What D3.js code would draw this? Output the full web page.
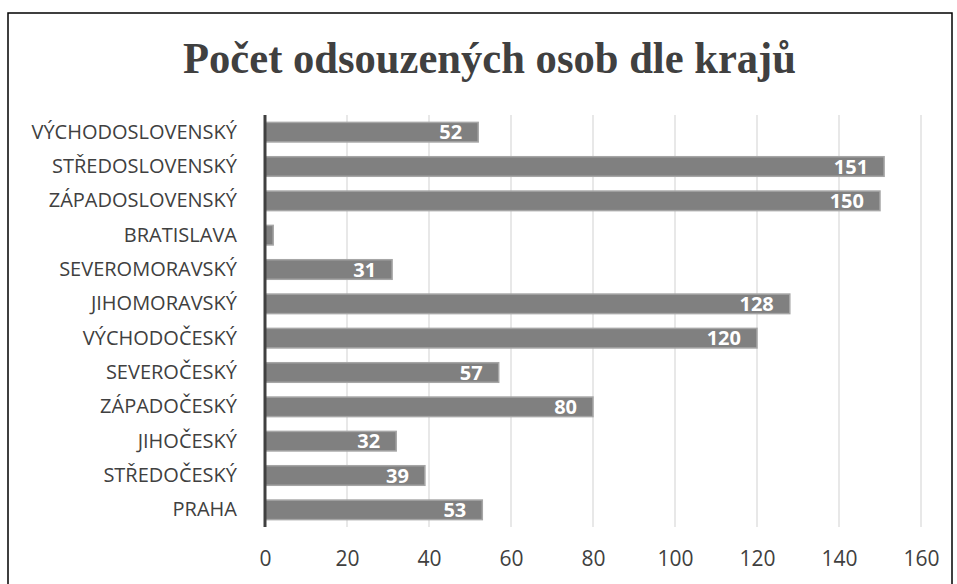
<!DOCTYPE html>
<html>
<head>
<meta charset="utf-8">
<script src="https://cdn.jsdelivr.net/npm/d3@7"></script>
<style>
  body { margin: 0; background: #fff; }
</style>
</head>
<body>
<div id="chart"></div>
<script>
// data, top to bottom as shown
var kraje = ['VÝCHODOSLOVENSKÝ', 'STŘEDOSLOVENSKÝ', 'ZÁPADOSLOVENSKÝ', 'BRATISLAVA',
             'SEVEROMORAVSKÝ', 'JIHOMORAVSKÝ', 'VÝCHODOČESKÝ', 'SEVEROČESKÝ',
             'ZÁPADOČESKÝ', 'JIHOČESKÝ', 'STŘEDOČESKÝ', 'PRAHA'];
var pocty = [52, 151, 150, 2, 31, 128, 120, 57, 80, 32, 39, 53];
var xTicks = [0, 20, 40, 60, 80, 100, 120, 140, 160];
var title = 'Počet odsouzených osob dle krajů';

var width = 957,
    height = 584,
    margin = {left: 265, right: 36, top: 115, bottom: 57};

var data = kraje.map(function(k, i) { return {kraj: k, value: pocty[i]}; });

var svg = d3.select('#chart').append('svg')
    .attr('width', width)
    .attr('height', height);

// outer frame
svg.append('rect')
    .attr('x', 8).attr('y', 13)
    .attr('width', 944).attr('height', 620)
    .attr('fill', 'none')
    .attr('stroke', '#000')
    .attr('stroke-width', 1.5);

svg.append('text')
    .attr('x', 183).attr('y', 73)
    .attr('textLength', 613)
    .attr('lengthAdjust', 'spacingAndGlyphs')
    .style('font-family', '"Liberation Serif", "Times New Roman", serif')
    .style('font-weight', 'bold')
    .style('font-size', '44px')
    .style('fill', '#404040')
    .text(title);

var xScale = d3.scaleLinear()
    .domain([0, 160])
    .range([margin.left, 921]);

var yScale = d3.scaleBand()
    .domain(kraje)
    .range([margin.top, height - margin.bottom])
    .paddingInner(0.43)
    .paddingOuter(0.215);

var font = '"Open Sans", sans-serif';

// gridlines
svg.append('g').selectAll('line')
    .data(xTicks.slice(1))
    .enter().append('line')
    .attr('x1', function(d) { return xScale(d); })
    .attr('x2', function(d) { return xScale(d); })
    .attr('y1', margin.top)
    .attr('y2', height - margin.bottom)
    .attr('stroke', '#d9d9d9')
    .attr('stroke-width', 1.2);

// x axis labels
var xAxis = d3.axisBottom(xScale).tickValues(xTicks).tickSize(0).tickPadding(24);
var gx = svg.append('g')
    .attr('transform', 'translate(0,' + (height - margin.bottom) + ')')
    .call(xAxis);
gx.select('.domain').remove();
gx.selectAll('text')
    .style('font-family', font)
    .style('font-size', '21px')
    .style('fill', '#404040');

// y axis labels
var yAxis = d3.axisLeft(yScale).tickSize(0).tickPadding(28);
var gy = svg.append('g')
    .attr('transform', 'translate(' + margin.left + ',0)')
    .call(yAxis);
gy.select('.domain').remove();
gy.selectAll('text')
    .style('font-family', font)
    .style('font-size', '20px')
    .style('fill', '#404040');

// bars
svg.append('g').selectAll('rect')
    .data(data)
    .enter().append('rect')
    .attr('x', xScale(0))
    .attr('y', function(d) { return yScale(d.kraj); })
    .attr('width', function(d) { return xScale(d.value) - xScale(0); })
    .attr('height', yScale.bandwidth())
    .attr('fill', '#808080')
    .attr('stroke', '#a6a6a6')
    .attr('stroke-width', 1.5);

// value labels (Bratislava has none)
svg.append('g').selectAll('text')
    .data(data.filter(function(d) { return d.value > 5; }))
    .enter().append('text')
    .attr('x', function(d) { return xScale(d.value) - 16; })
    .attr('y', function(d) { return yScale(d.kraj) + yScale.bandwidth() / 2; })
    .attr('dy', '0.36em')
    .attr('text-anchor', 'end')
    .style('font-family', font)
    .style('font-weight', 'bold')
    .style('font-size', '20px')
    .style('fill', '#fff')
    .text(function(d) { return d.value; });

// vertical axis line
svg.append('line')
    .attr('x1', xScale(0)).attr('x2', xScale(0))
    .attr('y1', margin.top).attr('y2', height - margin.bottom)
    .attr('stroke', '#404040')
    .attr('stroke-width', 3);
</script>
</body>
</html>
